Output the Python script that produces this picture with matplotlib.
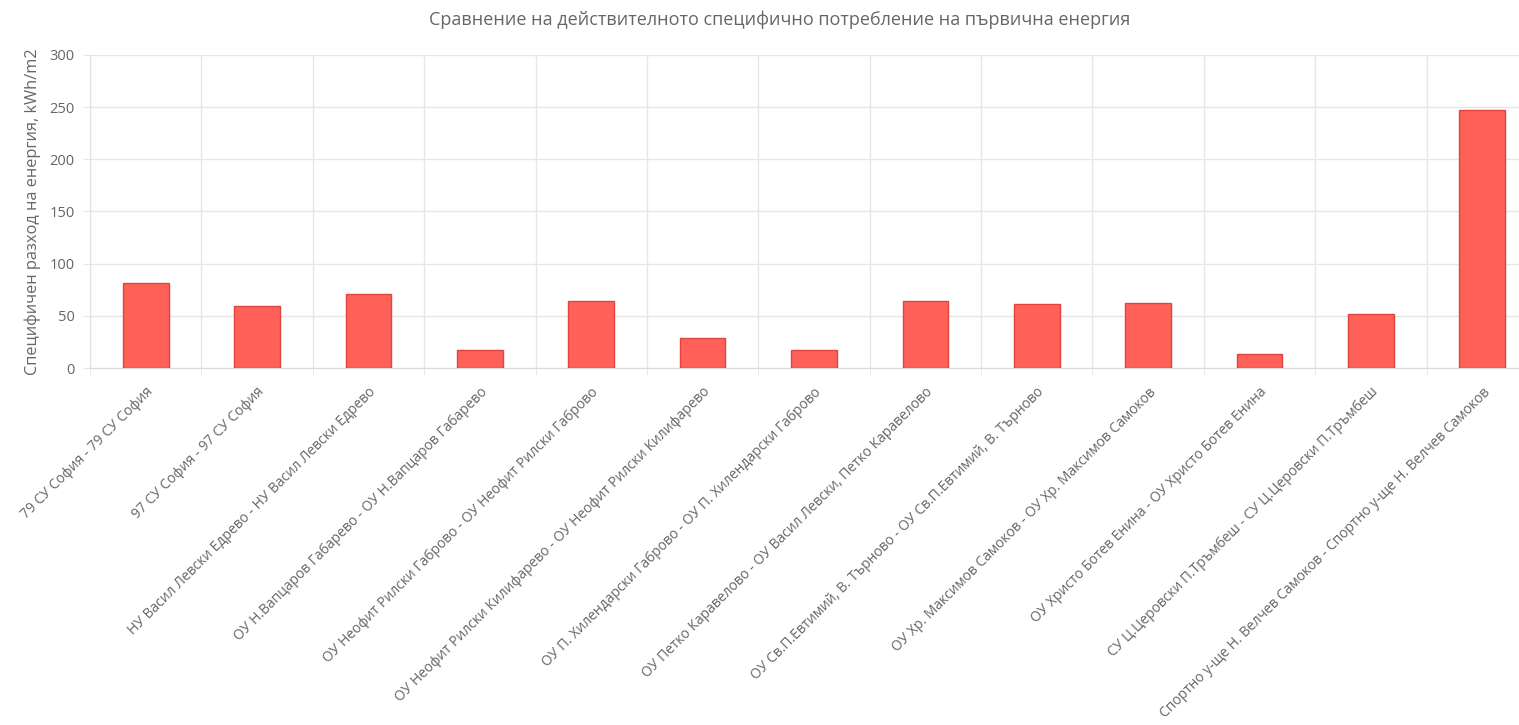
import matplotlib
matplotlib.use("Agg")
import matplotlib.pyplot as plt
import numpy as np

title = "Сравнение на действителното специфично потребление на първична енергия"
ylabel = "Специфичен разход на енергия, kWh/m2"
categories = [
    "79 СУ София - 79 СУ София",
    "97 СУ София - 97 СУ София",
    "НУ Васил Левски Едрево - НУ Васил Левски Едрево",
    "ОУ Н.Вапцаров Габарево - ОУ Н.Вапцаров Габарево",
    "ОУ Неофит Рилски Габрово - ОУ Неофит Рилски Габрово",
    "ОУ Неофит Рилски Килифарево - ОУ Неофит Рилски Килифарево",
    "ОУ П. Хилендарски Габрово - ОУ П. Хилендарски Габрово",
    "ОУ Петко Каравелово - ОУ Васил Левски, Петко Каравелово",
    "ОУ Св.П.Евтимий, В. Търново - ОУ Св.П.Евтимий, В. Търново",
    "ОУ Хр. Максимов Самоков - ОУ Хр. Максимов Самоков",
    "ОУ Христо Ботев Енина - ОУ Христо Ботев Енина",
    "СУ Ц.Церовски П.Тръмбеш - СУ Ц.Церовски П.Тръмбеш",
    "Спортно у-ще Н. Велчев Самоков - Спортно у-ще Н. Велчев Самоков",
]
values = [81, 59, 70.5, 17, 64.5, 29, 17, 64.5, 61, 62.3, 13.4, 51.5, 247.6]
yticks = [0, 50, 100, 150, 200, 250, 300]

plt.rcParams['font.family'] = ['Open Sans', 'DejaVu Sans']

fig = plt.figure(figsize=(15.19, 7.25), dpi=100)
ax = fig.add_axes([90/1519, 1-368/725, (1538-90)/1519, (368-55)/725])

x = np.arange(len(categories))
ax.bar(x, values, width=0.41, color='#ff6159', edgecolor='#e0443f', linewidth=1.0, zorder=3)

ax.set_xlim(-0.5, len(categories)-0.5)
ax.set_ylim(0, 300)
ax.set_yticks(yticks)
ax.set_yticklabels([str(t) for t in yticks], fontsize=10.5, color='#666666')
ax.set_xticks(x)
ax.set_xticklabels(categories, rotation=45, ha='right', rotation_mode='anchor',
                   fontsize=10.0, color='#666666')
ax.tick_params(axis='x', which='major', length=0, pad=12)
ax.set_xticks(np.arange(-0.5, len(categories), 1.0), minor=True)
ax.tick_params(axis='x', which='minor', length=5, color='#e6e6e6')
ax.tick_params(axis='y', length=5, color='#e6e6e6', pad=6)
ax.grid(True, which='minor', axis='x', color='#e6e6e6', linewidth=1, zorder=0)
ax.grid(True, which='major', axis='y', color='#e6e6e6', linewidth=1, zorder=0)
ax.grid(False, which='major', axis='x')
for s in ['top', 'right']:
    ax.spines[s].set_visible(False)
ax.spines['left'].set_color('#e0e0e0')
ax.spines['bottom'].set_color('#d9d9d9')

ax.set_ylabel(ylabel, fontsize=11.8, color='#666666', labelpad=6)
fig.text(0.513, 1-20/725, title, ha='center', va='center', fontsize=13, color='#666666')

fig.savefig('out.png', dpi=100)
